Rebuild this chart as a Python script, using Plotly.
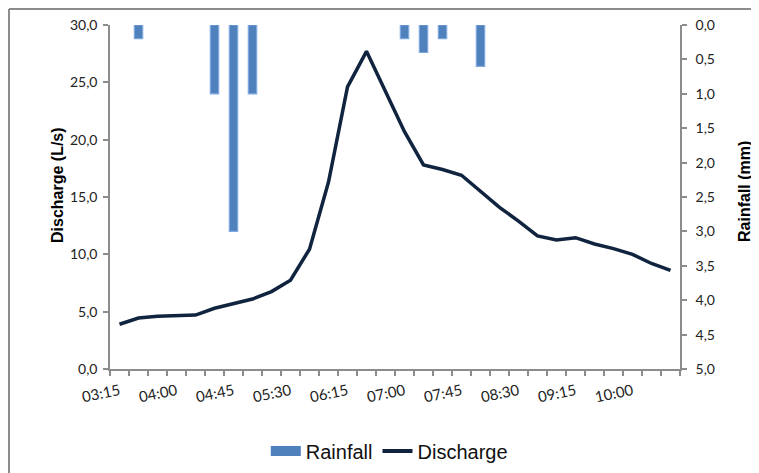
import plotly.graph_objects as go

times = ["03:15", "03:30", "03:45", "04:00", "04:15", "04:30", "04:45", "05:00",
         "05:15", "05:30", "05:45", "06:00", "06:15", "06:30", "06:45", "07:00",
         "07:15", "07:30", "07:45", "08:00", "08:15", "08:30", "08:45", "09:00",
         "09:15", "09:30", "09:45", "10:00", "10:15", "10:30"]

discharge = [3.9, 4.45, 4.6, 4.65, 4.7, 5.3, 5.7, 6.1, 6.75, 7.75,
             10.45, 16.3, 24.6, 27.7, 24.2, 20.7, 17.8, 17.4, 16.9, 15.45,
             14.1, 12.9, 11.6, 11.25, 11.45, 10.9, 10.5, 10.0, 9.2, 8.6]

rainfall = [None, 0.2, None, None, None, 1.0, 3.0, 1.0, None, None,
            None, None, None, None, None, 0.2, 0.4, 0.2, None, 0.6,
            None, None, None, None, None, None, None, None, None, None]

label_times = ["03:15", "04:00", "04:45", "05:30", "06:15", "07:00",
               "07:45", "08:30", "09:15", "10:00"]

# page has an 8px body margin, so the figure is sized to fit the window
PAGE_OFF = 8
W, H = 759 - PAGE_OFF, 473 - PAGE_OFF
L, R, T, B = 110 - PAGE_OFF, 79, 25 - PAGE_OFF, 104

BAR_BLUE = "#4F81BD"
LINE_NAVY = "#10243F"

fig = go.Figure()
fig.add_trace(go.Bar(
    x=times, y=rainfall, name="Rainfall", yaxis="y2", showlegend=False,
    marker=dict(color=BAR_BLUE, line=dict(color="#7FA8E0", width=1.2)),
    width=0.44,
))
fig.add_trace(go.Scatter(
    x=times, y=discharge, name="Discharge", mode="lines", showlegend=False,
    line=dict(color=LINE_NAVY, width=3.5),
))
# legend entries
fig.add_trace(go.Scatter(
    x=[None], y=[None], name="Rainfall", mode="lines",
    line=dict(color=BAR_BLUE, width=12),
))
fig.add_trace(go.Scatter(
    x=[None], y=[None], name="Discharge", mode="lines",
    line=dict(color=LINE_NAVY, width=4),
))

ticktext = [t if t in label_times else "" for t in times]

axis_font = dict(family="Lato, Carlito, Arial", size=14, color="#222222")
xtick_font = dict(family="Lato, Carlito, Arial", size=15, color="#222222")

legend_y = (H - (451 - PAGE_OFF)) / H

fig.update_layout(
    width=W, height=H,
    margin=dict(l=L, r=R, t=T, b=B, autoexpand=False),
    paper_bgcolor="white", plot_bgcolor="white",
    separators=", ",
    showlegend=True,
    barmode="overlay",
    legend=dict(orientation="h", x=0.49, xanchor="center", xref="paper",
                y=legend_y, yanchor="middle", yref="container",
                font=dict(family="Liberation Sans, Arial", size=20, color="#111111"),
                itemwidth=30, traceorder="normal", tracegroupgap=0,
                itemclick=False),
    xaxis=dict(
        type="category", tickmode="array", tickvals=times, ticktext=ticktext,
        tickangle=-12, tickson="boundaries", ticks="outside", ticklen=5,
        tickcolor="#8c8c8c", tickwidth=1.5, showline=True, linecolor="#8c8c8c",
        linewidth=1.5, showgrid=False, zeroline=False, tickfont=xtick_font,
        range=[-0.5, len(times) - 0.5], automargin=False, ticklabelstandoff=6,
    ),
    yaxis=dict(
        range=[0, 30], dtick=5, tickformat=".1f", ticks="outside", ticklen=5,
        tickcolor="#8c8c8c", tickwidth=1.5, showline=True, linecolor="#8c8c8c",
        linewidth=1.5, showgrid=False, zeroline=False, tickfont=axis_font,
        automargin=False, ticklabelstandoff=3,
    ),
    yaxis2=dict(
        overlaying="y", side="right", range=[5, 0], dtick=0.5, tickformat=".1f",
        ticks="outside", ticklen=5, tickcolor="#8c8c8c", tickwidth=1.5,
        showline=True, linecolor="#8c8c8c", linewidth=1.5, showgrid=False,
        zeroline=False, tickfont=axis_font, automargin=False, ticklabelstandoff=6,
    ),
)

PLOT_L, PLOT_B = 110, 369
pw, ph = 570, 344

def px_x(x):
    return (x - PLOT_L) / pw

def px_y(y):
    return (PLOT_B - y) / ph

title_font = dict(family="Liberation Sans, Arial", size=16, color="#000000")
fig.add_annotation(text="<b>Discharge (L/s)</b>", textangle=-90, showarrow=False,
                   xref="paper", yref="paper", x=px_x(57), y=px_y(185),
                   xanchor="center", yanchor="middle", font=title_font)
fig.add_annotation(text="<b>Rainfall (mm)</b>", textangle=-90, showarrow=False,
                   xref="paper", yref="paper", x=px_x(744), y=px_y(192),
                   xanchor="center", yanchor="middle", font=title_font)

# chart-area border (only left and top edges visible in the frame)
fig.add_shape(type="line", xref="paper", yref="paper",
              x0=px_x(9), x1=px_x(9), y0=px_y(9), y1=px_y(480),
              line=dict(color="#8c8c8c", width=2))
fig.add_shape(type="line", xref="paper", yref="paper",
              x0=px_x(9), x1=px_x(770), y0=px_y(9), y1=px_y(9),
              line=dict(color="#8c8c8c", width=2))

fig.write_html("out.html")
